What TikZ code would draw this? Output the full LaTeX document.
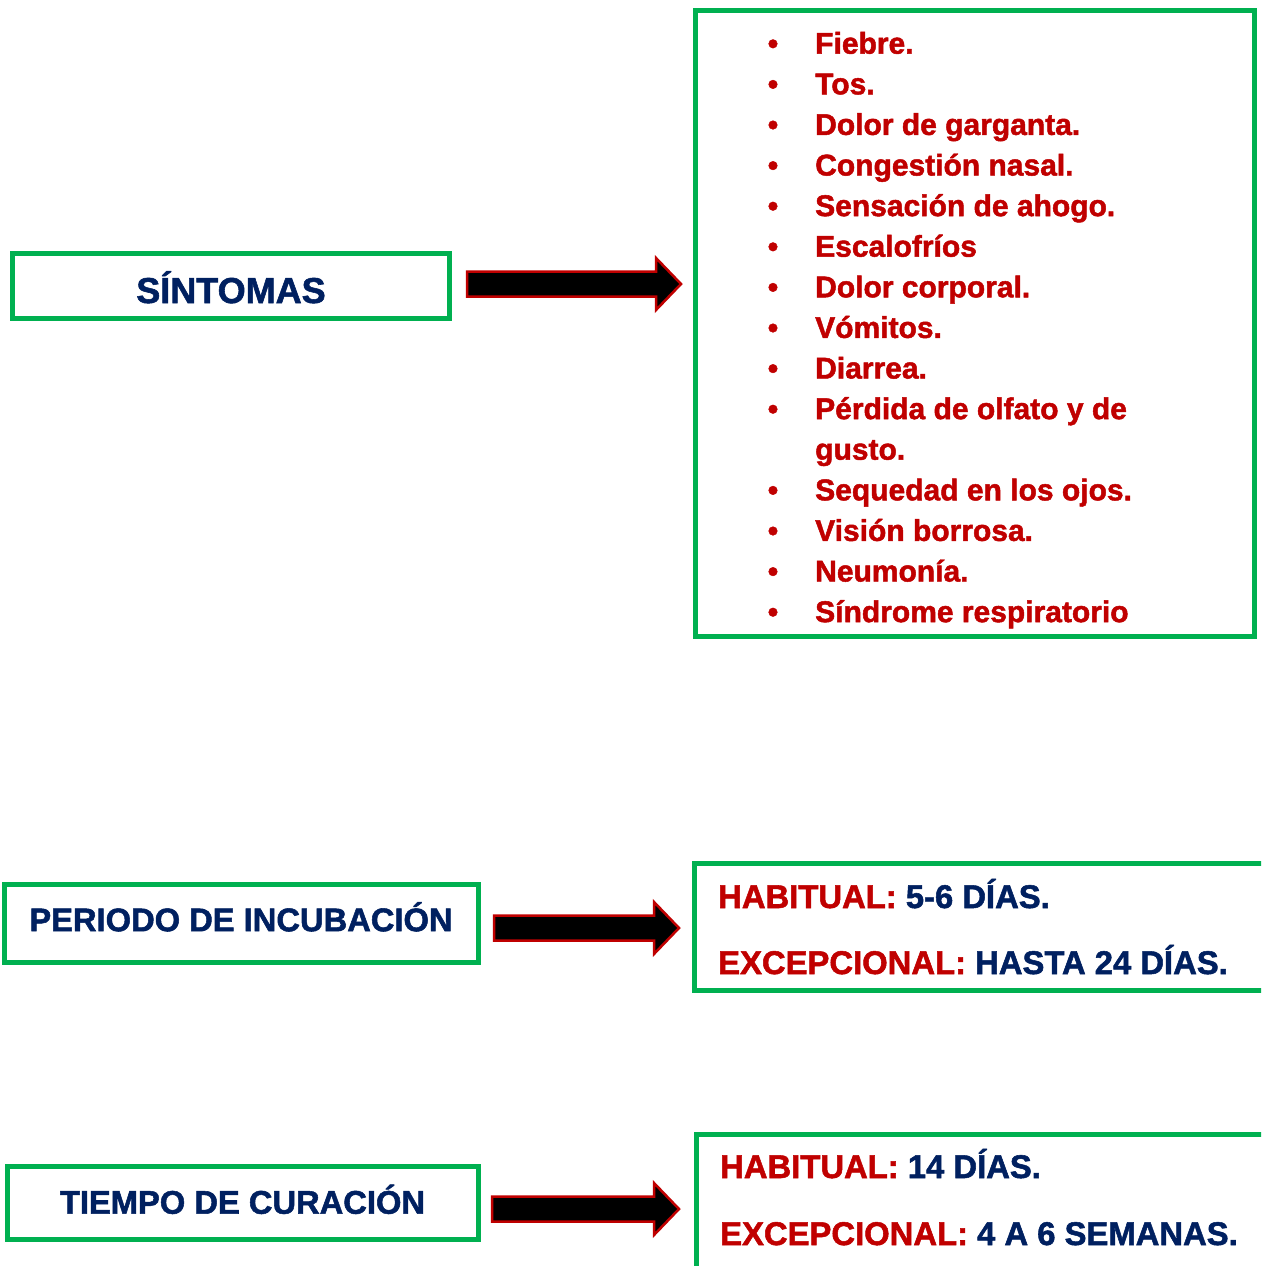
\documentclass[tikz,border=0pt]{standalone}
\usepackage{fontspec}
\setmainfont{Liberation Sans}[BoldFeatures={FakeBold=1.6}]
\definecolor{verde}{HTML}{00B050}
\definecolor{rojo}{HTML}{C00000}
\definecolor{azul}{HTML}{002060}
\begin{document}
\begin{tikzpicture}[x=1pt,y=-1pt,
  caja/.style={draw=verde,line width=5pt,outer sep=0pt,inner sep=0pt,text=azul,
    font=\bfseries\fontsize{32.7}{38}\selectfont,text height=23.4pt,text depth=0pt},
  texto/.style={anchor=base west,inner sep=0pt,font=\bfseries\fontsize{32.8}{38}\selectfont},
  sintoma/.style={anchor=base west,inner sep=0pt,text=rojo,font=\bfseries\fontsize{30}{36}\selectfont},
  vineta/.style={anchor=base,inner sep=0pt,text=rojo,font=\bfseries\fontsize{30}{36}\selectfont},
  flecha/.style={fill=black,draw=rojo,line width=2.5pt,line join=miter}]
\useasboundingbox (0,0) rectangle (1261,1266);
\clip (0,0) rectangle (1261,1266);
% cajas de la izquierda
\node[caja,minimum width=437,minimum height=65,font=\bfseries\fontsize{36}{40}\selectfont,text height=34pt] (sintomas) at (231,286) {SÍNTOMAS};
\node[caja,minimum width=474,minimum height=78,text depth=8pt] (incubacion) at (241,923.5) {PERIODO DE INCUBACIÓN};
\node[caja,minimum width=471,minimum height=73,text depth=2pt] (curacion) at (242.5,1203) {TIEMPO DE CURACIÓN};
% cajas de la derecha
\node[caja,minimum width=559,minimum height=626,anchor=north west] (lista) at (695,10) {};
\node[caja,minimum width=620,minimum height=127,anchor=north west] (incubdatos) at (694,863) {};
\node[caja,minimum width=620,minimum height=200,anchor=north west] (curdatos) at (696,1134) {};
% flechas
\coordinate (f1) at (467,284);
\coordinate (f2) at (494,928);
\coordinate (f3) at (492,1209);
\draw[flecha] (f1) ++(0,-12.5) -- ++(189,0) -- ++(0,-13.5) -- ++(25,26) -- ++(-25,26) -- ++(0,-13.5) -- ++(-189,0) -- cycle;
\draw[flecha] (f2) ++(0,-12.5) -- ++(160,0) -- ++(0,-13.5) -- ++(25,26) -- ++(-25,26) -- ++(0,-13.5) -- ++(-160,0) -- cycle;
\draw[flecha] (f3) ++(0,-12.5) -- ++(162,0) -- ++(0,-13.5) -- ++(25,26) -- ++(-25,26) -- ++(0,-13.5) -- ++(-162,0) -- cycle;
% lista de sintomas
\foreach \s [count=\i from 0] in {Fiebre., Tos., Dolor de garganta., Congestión nasal., Sensación de ahogo., Escalofríos, Dolor corporal., Vómitos., Diarrea., Pérdida de olfato y de, gusto., Sequedad en los ojos., Visión borrosa., Neumonía., Síndrome respiratorio}{
  \node[sintoma] (s\i) at (815,53.7+40.6*\i) {\s};
  \ifnum\i=10\else\node[vineta] (b\i) at (773,53.7+40.6*\i) {\textbullet};\fi
}
% datos
\node[texto] (hab1) at (718,908) {\textcolor{rojo}{HABITUAL:} \textcolor{azul}{5-6 DÍAS.}};
\node[texto] (exc1) at (718,974) {\textcolor{rojo}{EXCEPCIONAL:} \textcolor{azul}{HASTA 24 DÍAS.}};
\node[texto] (hab2) at (720,1178) {\textcolor{rojo}{HABITUAL:} \textcolor{azul}{14 DÍAS.}};
\node[texto] (exc2) at (720,1245) {\textcolor{rojo}{EXCEPCIONAL:} \textcolor{azul}{4 A 6 SEMANAS.}};
\end{tikzpicture}
\end{document}
